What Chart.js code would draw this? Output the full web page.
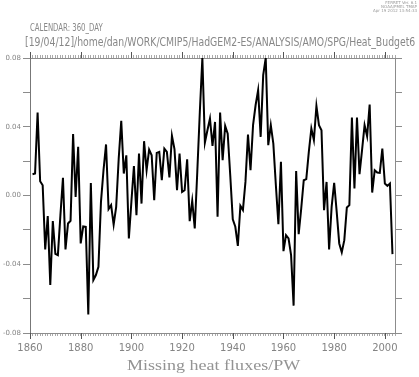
<!DOCTYPE html>
<html>
<head>
<meta charset="utf-8">
<script src="https://cdn.jsdelivr.net/npm/chart.js@4.4.1/dist/chart.umd.min.js"></script>
<style>
  body { margin: 0; background: #fff; }
  #wrap { position: relative; width: 419px; height: 377px; }
  .txt { position: absolute; white-space: nowrap; color: #888; font-family: "DejaVu Sans", sans-serif; transform-origin: 0 50%; line-height: 1; }
  .stamp { position: absolute; right: 2px; top: 1px; text-align: right; font-family: "DejaVu Sans", sans-serif; font-size: 4px; line-height: 4px; color: #999; }
</style>
</head>
<body>
<div id="wrap">
  <canvas id="myChart" width="419" height="377"></canvas>
  <div class="stamp">FERRET Ver. 6.1<br>NOAA/PMEL TMAP<br>Apr 19 2012 13:54:33</div>
  <div class="txt" id="cal" style="left:30px; top:23px; font-size:10px;">CALENDAR: 360_DAY</div>
  <div class="txt" id="head" style="left:25px; top:36px; font-size:12px;">[19/04/12]/home/dan/WORK/CMIP5/HadGEM2-ES/ANALYSIS/AMO/SPG/Heat_Budget6</div>
  <div class="txt" id="xtitle" style="left:127px; top:358px; font-size:15px; font-family:'Liberation Serif', serif; color:#939393;">Missing heat fluxes/PW</div>
</div>
<script>
const years = [
  1861, 1862, 1863, 1864, 1865, 1866, 1867, 1868, 1869, 1870,
  1871, 1872, 1873, 1874, 1875, 1876, 1877, 1878, 1879, 1880,
  1881, 1882, 1883, 1884, 1885, 1886, 1887, 1888, 1889, 1890,
  1891, 1892, 1893, 1894, 1895, 1896, 1897, 1898, 1899, 1900,
  1901, 1902, 1903, 1904, 1905, 1906, 1907, 1908, 1909, 1910,
  1911, 1912, 1913, 1914, 1915, 1916, 1917, 1918, 1919, 1920,
  1921, 1922, 1923, 1924, 1925, 1926, 1927, 1928, 1929, 1930,
  1931, 1932, 1933, 1934, 1935, 1936, 1937, 1938, 1939, 1940,
  1941, 1942, 1943, 1944, 1945, 1946, 1947, 1948, 1949, 1950,
  1951, 1952, 1953, 1954, 1955, 1956, 1957, 1958, 1959, 1960,
  1961, 1962, 1963, 1964, 1965, 1966, 1967, 1968, 1969, 1970,
  1971, 1972, 1973, 1974, 1975, 1976, 1977, 1978, 1979, 1980,
  1981, 1982, 1983, 1984, 1985, 1986, 1987, 1988, 1989, 1990,
  1991, 1992, 1993, 1994, 1995, 1996, 1997, 1998, 1999, 2000,
  2001, 2002, 2003
];

const heatFlux = [
  0.0124, 0.0128, 0.0483, 0.0083, 0.0060, -0.0314, -0.0120, -0.0521, -0.0149, -0.0339,
  -0.0347, -0.0114, 0.0103, -0.0314, -0.0163, -0.0147, 0.0357, -0.0008, 0.0283, -0.0279,
  -0.0180, -0.0182, -0.0692, 0.0072, -0.0492, -0.0463, -0.0415, -0.0037, 0.0147, 0.0297,
  -0.0079, -0.0056, -0.0169, -0.0066, 0.0215, 0.0434, 0.0128, 0.0234, -0.0250, -0.0037,
  0.0171, -0.0114, 0.0244, -0.0047, 0.0316, 0.0147, 0.0267, 0.0234, -0.0027, 0.0248,
  0.0254, 0.0089, 0.0273, 0.0254, 0.0105, 0.0347, 0.0270, 0.0031, 0.0244, 0.0021,
  0.0031, 0.0211, -0.0149, -0.0031, -0.0192, 0.0138, 0.0486, 0.0800, 0.0308, 0.0380,
  0.0448, 0.0289, 0.0428, -0.0124, 0.0483, 0.0205, 0.0405, 0.0360, 0.0118, -0.0138,
  -0.0182, -0.0293, -0.0060, -0.0085, 0.0079, 0.0355, 0.0147, 0.0409, 0.0525, 0.0612,
  0.0341, 0.0700, 0.0800, 0.0293, 0.0409, 0.0302, 0.0060, -0.0167, 0.0196, -0.0324,
  -0.0231, -0.0250, -0.0347, -0.0641, 0.0143, -0.0225, -0.0076, 0.0089, 0.0095, 0.0254,
  0.0390, 0.0322, 0.0521, 0.0409, 0.0380, -0.0085, 0.0079, -0.0314, -0.0066, 0.0074,
  -0.0095, -0.0279, -0.0331, -0.0260, -0.0070, -0.0056, 0.0453, 0.0041, 0.0453, 0.0124,
  0.0264, 0.0409, 0.0345, 0.0529, 0.0017, 0.0147, 0.0134, 0.0132, 0.0273, 0.0070,
  0.0056, 0.0070, -0.0341
];

const xLabels = [1860, 1880, 1900, 1920, 1940, 1960, 1980, 2000];
const yLabels = [0.08, 0.04, 0.00, -0.04, -0.08];

const axisGray = '#8c8c8c';
const textGray = '#848484';

const points = years.map((y, i) => ({ x: y, y: heatFlux[i] }));

const isLabelledX = v => xLabels.indexOf(v) >= 0;
const isLabelledY = v => yLabels.some(l => Math.abs(l - v) < 1e-6);

// the 20-year ticks are a bit longer than the yearly ones, top and bottom
const majorTicks = {
  id: 'majorTicks',
  afterDraw(chart) {
    var ctx = chart.ctx, area = chart.chartArea, sx = chart.scales.x;
    ctx.save();
    ctx.strokeStyle = '#555';
    ctx.lineWidth = 1;
    xLabels.forEach(function (v) {
      var px = Math.round(sx.getPixelForValue(v)) + 0.5;
      ctx.beginPath();
      ctx.moveTo(px, area.top - 6);
      ctx.lineTo(px, area.top);
      ctx.moveTo(px, area.bottom);
      ctx.lineTo(px, area.bottom + 6);
      ctx.stroke();
    });
    ctx.restore();
  }
};

const config = {
  type: 'line',
  data: {
    datasets: [{
      data: points,
      borderColor: '#000',
      borderWidth: 2,
      pointRadius: 0,
      tension: 0,
      fill: false
    }]
  },
  options: {
    responsive: false,
    devicePixelRatio: 1,
    animation: false,
    layout: { padding: 0 },
    plugins: { legend: { display: false }, tooltip: { enabled: false } },
    scales: {
      x: {
        type: 'linear',
        position: 'bottom',
        min: 1860,
        max: 2004,
        afterFit: s => { s.height = 44; },
        border: { display: true, color: axisGray, width: 1 },
        grid: { drawOnChartArea: false, drawTicks: true, tickLength: 3, tickColor: '#aaa' },
        ticks: {
          stepSize: 1,
          autoSkip: false,
          maxRotation: 0,
          padding: 6,
          color: textGray,
          font: { family: 'DejaVu Sans', size: 10 },
          callback: v => isLabelledX(v) ? String(v) : ''
        }
      },
      x2: {
        type: 'linear',
        position: 'top',
        min: 1860,
        max: 2004,
        afterFit: s => { s.height = 58; },
        border: { display: true, color: axisGray, width: 1 },
        grid: { drawOnChartArea: false, tickLength: 3, tickColor: '#aaa' },
        ticks: { display: false, stepSize: 1, autoSkip: false }
      },
      y: {
        position: 'left',
        min: -0.08,
        max: 0.08,
        afterFit: s => { s.width = 30; },
        border: { display: true, color: '#777', width: 1 },
        grid: { drawOnChartArea: false, tickLength: 7, tickColor: axisGray },
        ticks: {
          stepSize: 0.02,
          autoSkip: false,
          padding: 2,
          color: textGray,
          font: { family: 'DejaVu Sans', size: 7 },
          callback: v => isLabelledY(v) ? v.toFixed(2) : ''
        }
      },
      y2: {
        position: 'right',
        min: -0.08,
        max: 0.08,
        afterFit: s => { s.width = 24; },
        border: { display: true, color: axisGray, width: 1 },
        grid: { drawOnChartArea: false, tickLength: 7, tickColor: axisGray },
        ticks: { display: false, stepSize: 0.02, autoSkip: false }
      }
    }
  },
  plugins: [majorTicks]
};

const myChart = new Chart(document.getElementById('myChart').getContext('2d'), config);

// squeeze/stretch the header texts to the widths they have in the picture
function fitWidth(id, target) {
  var el = document.getElementById(id);
  var w = el.offsetWidth;
  el.style.transform = 'scaleX(' + (target / w) + ')';
}
fitWidth('cal', 73);
fitWidth('head', 390);
fitWidth('xtitle', 173);
</script>
</body>
</html>
